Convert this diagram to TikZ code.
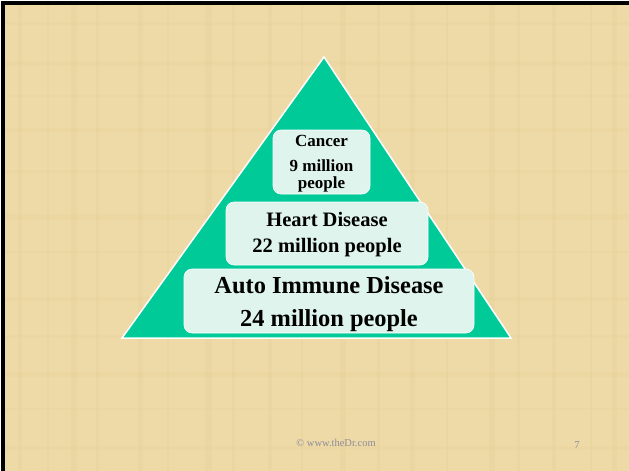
\documentclass[tikz,border=0pt]{standalone}
\usepackage{fontspec}
\setmainfont{Liberation Serif}
\definecolor{parchment}{RGB}{238,218,166}
\definecolor{parchmentdark}{RGB}{214,186,120}
\definecolor{pyramidgreen}{RGB}{0,202,152}
\definecolor{boxfill}{RGB}{222,244,236}
\definecolor{footgray}{RGB}{140,140,156}
\begin{document}
\begin{tikzpicture}[x=1pt, y=-1pt,
    tierbox/.style={fill=boxfill, draw=white, line width=0.6pt, rounded corners=8pt},
    tiertext/.style={font=\bfseries, text=black, align=center, inner sep=0pt},
    foot/.style={font=\fontsize{10.5}{12}\selectfont, text=footgray, inner sep=0pt}]

    % --- Slide background ---
    \useasboundingbox (0,0) rectangle (629,471);
    \fill[white] (0,0) rectangle (629,471);
    \fill[parchment] (1,1) rectangle (629,471);
    % faint weave of the parchment
    \foreach \x/\w in {18/4,47/2,71/6,96/3,138/5,167/2,205/7,232/3,268/4,301/2,340/6,377/3,410/5,446/2,489/6,517/3,552/4,590/2,612/5}
        \fill[parchmentdark, opacity=0.10] (\x,1) rectangle (\x+\w,471);
    \foreach \y/\h in {22/3,61/5,95/2,128/4,170/3,214/6,251/2,297/4,335/3,372/5,408/2,446/4}
        \fill[parchmentdark, opacity=0.07] (1,\y) rectangle (629,\y+\h);
    % black frame on the left and top
    \fill[black] (1,1) rectangle (5,471);
    \fill[black] (1,1) rectangle (629,5);

    % --- The pyramid ---
    \coordinate (apex) at (324,57);
    \coordinate (baseL) at (122,338);
    \coordinate (baseR) at (511,338);
    \fill[pyramidgreen, draw=white, line width=1.5pt, line join=miter] (apex) -- (baseR) -- (baseL) -- cycle;

    % --- Tiers, top to bottom ---
    \fill[tierbox] (273,130) rectangle (370,194);
    \node[tiertext, font=\bfseries\fontsize{17}{17}\selectfont] (cancer) at (321.5,141) {Cancer};
    \node[tiertext, font=\bfseries\fontsize{17}{17}\selectfont] (cancernum) at (321.5,166) {9 million};
    \node[tiertext, font=\bfseries\fontsize{17}{17}\selectfont] (cancerppl) at (321.5,184) {people};

    \fill[tierbox] (226,202) rectangle (428,265);
    \node[tiertext, font=\bfseries\fontsize{20.5}{20.5}\selectfont] (heart) at (327,219) {Heart Disease};
    \node[tiertext, font=\bfseries\fontsize{20.5}{20.5}\selectfont] (heartnum) at (327,248) {22 million people};

    \fill[tierbox] (184,269) rectangle (474,333);
    \node[tiertext, font=\bfseries\fontsize{24.4}{24.4}\selectfont] (auto) at (329,285) {Auto Immune Disease};
    \node[tiertext, font=\bfseries\fontsize{24.4}{24.4}\selectfont] (autonum) at (329,321) {24 million people};

    % --- Footer ---
    \node[foot] (site) at (336,443) {© www.theDr.com};
    \node[foot] (page) at (577,445) {7};

\end{tikzpicture}
\end{document}
